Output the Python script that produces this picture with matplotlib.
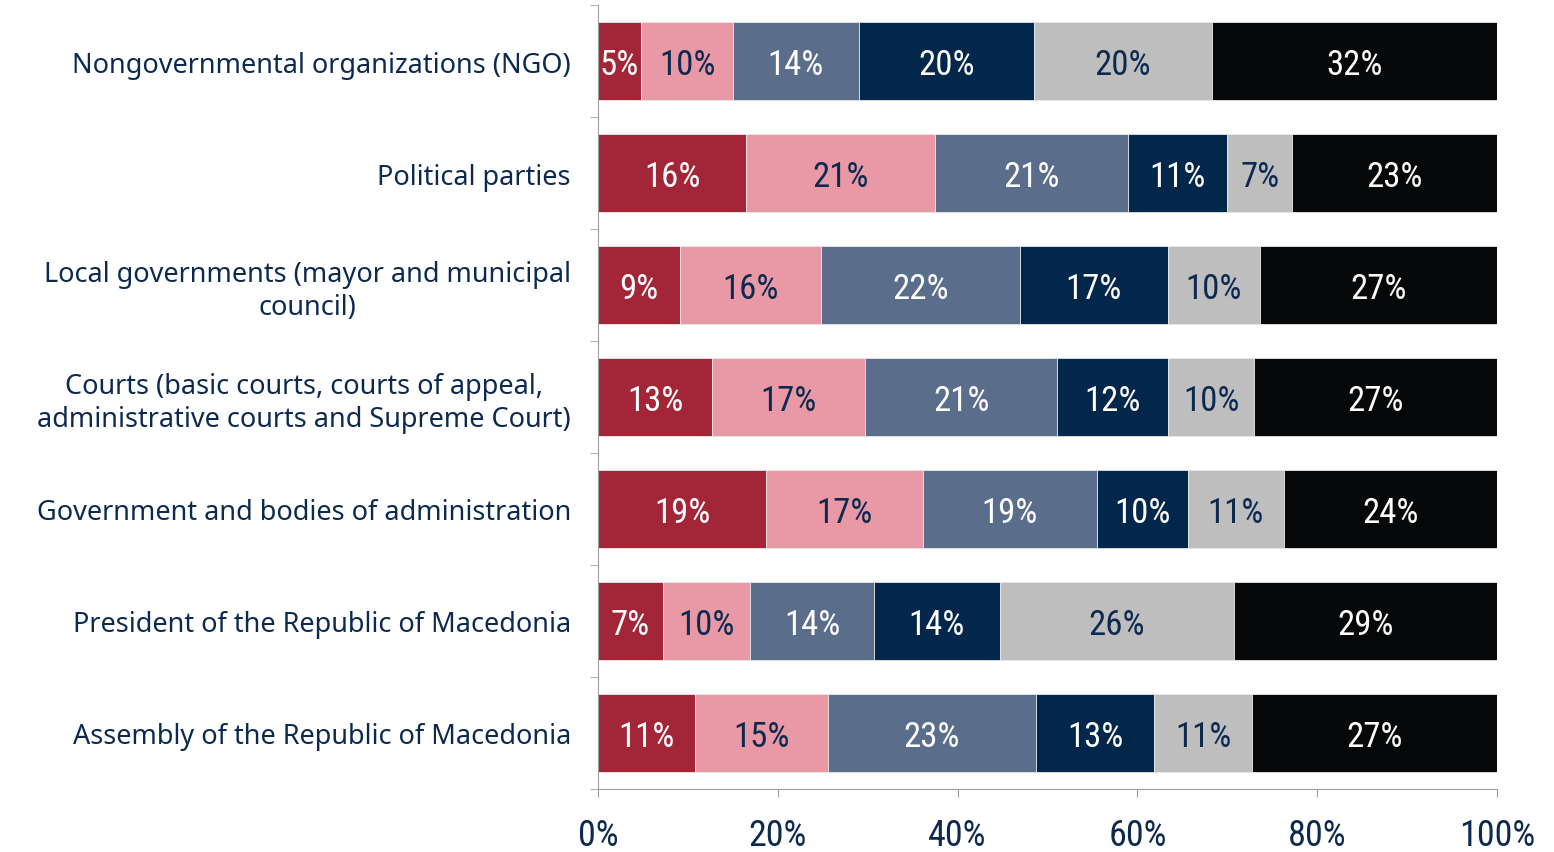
import matplotlib.pyplot as plt
from matplotlib import font_manager as fm
import numpy as np

# categories, top to bottom
categories = ['Nongovernmental organizations (NGO)',
              'Political parties',
              'Local governments (mayor and municipal\ncouncil)',
              'Courts (basic courts, courts of appeal,\nadministrative courts and Supreme Court)',
              'Government and bodies of administration',
              'President of the Republic of Macedonia',
              'Assembly of the Republic of Macedonia']

# segment widths (%), one list per series
s1 = [4.8, 16.5, 9.1, 12.7, 18.7, 7.2, 10.8]
s2 = [10.2, 21.0, 15.7, 17.0, 17.4, 9.7, 14.8]
s3 = [14.0, 21.4, 22.1, 21.4, 19.4, 13.8, 23.1]
s4 = [19.5, 11.1, 16.5, 12.3, 10.1, 14.0, 13.2]
s5 = [19.8, 7.2, 10.2, 9.6, 10.7, 26.0, 10.8]
s6 = [31.7, 22.8, 26.4, 27.0, 23.8, 29.3, 27.3]

# labels printed on the bars
l1 = [5, 16, 9, 13, 19, 7, 11]
l2 = [10, 21, 16, 17, 17, 10, 15]
l3 = [14, 21, 22, 21, 19, 14, 23]
l4 = [20, 11, 17, 12, 10, 14, 13]
l5 = [20, 7, 10, 10, 11, 26, 11]
l6 = [32, 23, 27, 27, 24, 29, 27]

xticks = [0, 20, 40, 60, 80, 100]

series = [s1, s2, s3, s4, s5, s6]
labels = [l1, l2, l3, l4, l5, l6]
colors = ['#A32638', '#E899A5', '#5A6E8C', '#03274B', '#BEBEBE', '#060708']
txtcol = ['white', '#0C2A4F', 'white', 'white', '#0C2A4F', 'white']
navy = '#0C2A4F'


def plain(f):
    bad = ['Bold', 'Italic', 'Oblique', 'Light', 'Thin', 'Medium', 'Black', 'Semi', 'Extra']
    return f.style == 'normal' and not any(b in f.fname for b in bad)


# look for a narrow (upright, regular) font for the numbers
narrow = None
fonts = fm.fontManager.ttflist
for cand in ['Liberation Sans Narrow', 'Roboto Condensed', 'Open Sans Condensed',
             'Noto Sans Condensed', 'DejaVu Sans Condensed']:
    hit = [f for f in fonts if f.name == cand and plain(f)]
    if hit:
        narrow = fm.FontProperties(fname=sorted(hit, key=lambda f: len(f.fname))[0].fname)
        break
if narrow is None:
    hit = [f for f in fonts if ('Condensed' in f.fname or 'Narrow' in f.fname) and plain(f)]
    if hit:
        narrow = fm.FontProperties(fname=sorted(hit, key=lambda f: len(f.fname))[0].fname)
    else:
        narrow = fm.FontProperties(family='DejaVu Sans')

fig = plt.figure(figsize=(15.54, 8.53), dpi=100)
ax = fig.add_axes([598 / 1554, 1 - 790 / 853, 899 / 1554, 784 / 853])

y = np.arange(len(categories))
left = np.zeros(len(categories))
for vals, labs, c, tc in zip(series, labels, colors, txtcol):
    vals = np.array(vals)
    ax.barh(y, vals, left=left, height=0.7, color=c, edgecolor='#E8E8E8', linewidth=0.6)
    for yi, (l, v, lab) in enumerate(zip(left, vals, labs)):
        ax.text(l + v / 2, yi, f'{lab}%', ha='center', va='center_baseline', color=tc,
                fontproperties=narrow, fontsize=25)
    left = left + vals

ax.set_xlim(0, 100)
ax.set_ylim(len(categories) - 0.5, -0.5)

for s in ['top', 'right']:
    ax.spines[s].set_visible(False)
ax.spines['left'].set_color('#A0A0A0')
ax.spines['bottom'].set_color('#A0A0A0')

ax.set_yticks(y)
ax.set_yticklabels(categories)
ax.set_yticks(np.arange(-0.5, len(categories)), minor=True)
ax.tick_params(axis='y', which='major', length=0, pad=19.5, labelsize=19.5, labelcolor=navy)
ax.tick_params(axis='y', which='minor', length=6, color='#A0A0A0', left=True)
for t in ax.get_yticklabels():
    t.set_multialignment('center')
    t.set_family('Noto Sans')

ax.set_xticks(xticks)
ax.set_xticklabels([f'{v}%' for v in xticks])
ax.tick_params(axis='x', length=6, color='#A0A0A0', pad=14, labelsize=26, labelcolor=navy)
for t in ax.get_xticklabels():
    t.set_fontproperties(narrow)
    t.set_fontsize(26)

fig.savefig('out.png', dpi=100)
